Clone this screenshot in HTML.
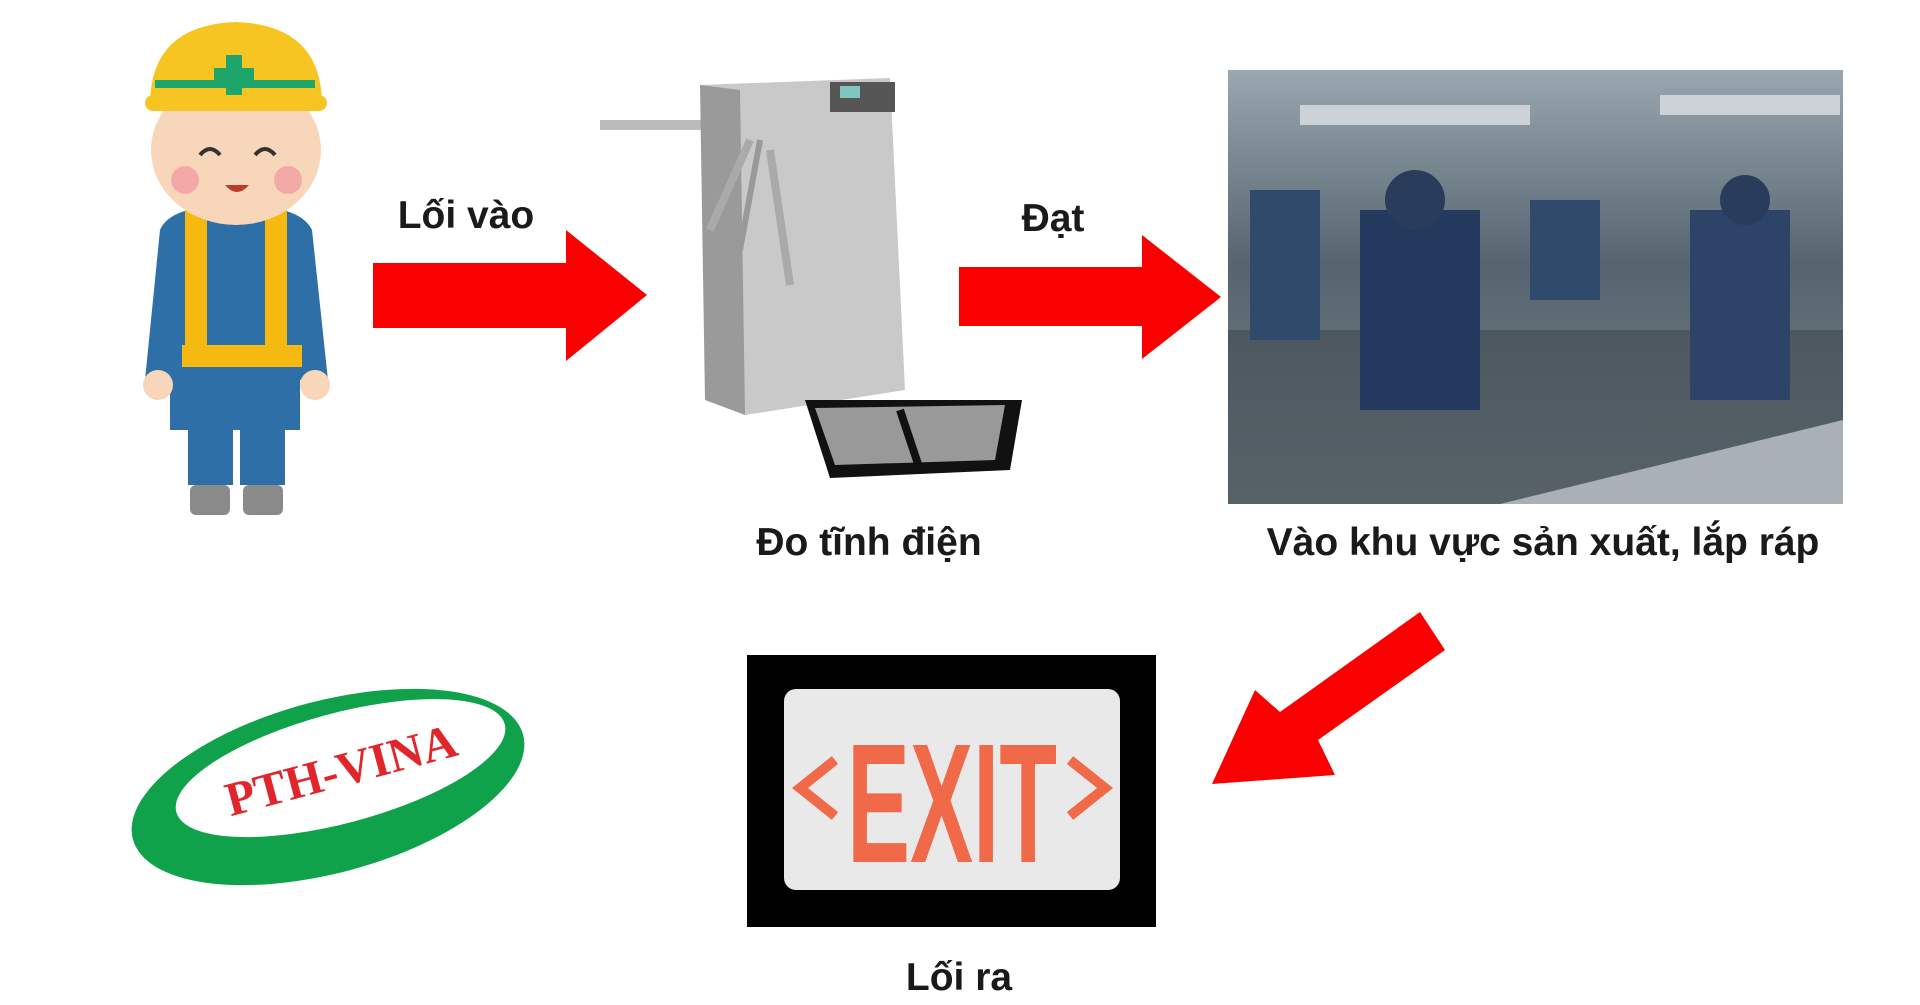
<!DOCTYPE html>
<html><head><meta charset="utf-8"><style>
html,body{margin:0;padding:0;background:#fff;width:1920px;height:1005px;overflow:hidden;position:relative;font-family:"Liberation Sans",sans-serif}
.t{position:absolute;font-weight:bold;font-size:39px;color:#1a1a1a;transform:translateX(-50%);white-space:nowrap}
.abs{position:absolute}
</style></head><body>
<svg class="abs" style="left:0;top:0" width="1920" height="1005">
<g>
<rect x="188" y="415" width="45" height="70" fill="#2f6fa8"/><rect x="240" y="415" width="45" height="70" fill="#2f6fa8"/>
<rect x="190" y="485" width="40" height="30" rx="6" fill="#8a8a8a"/><rect x="243" y="485" width="40" height="30" rx="6" fill="#8a8a8a"/>
<rect x="170" y="350" width="130" height="80" fill="#2f6fa8"/>
<path d="M160 230 Q170 205 236 205 Q300 205 312 230 L328 380 L300 380 L300 360 L170 360 L170 380 L145 380 Z" fill="#2f6fa8"/>
<rect x="185" y="208" width="22" height="150" fill="#f6b90f"/><rect x="265" y="208" width="22" height="150" fill="#f6b90f"/>
<rect x="182" y="345" width="120" height="22" fill="#f6b90f"/>
<circle cx="158" cy="385" r="15" fill="#f8d6b9"/><circle cx="315" cy="385" r="15" fill="#f8d6b9"/>
<ellipse cx="236" cy="150" rx="85" ry="75" fill="#f8d6b9"/>
<circle cx="185" cy="180" r="14" fill="#f4a9a8"/><circle cx="288" cy="180" r="14" fill="#f4a9a8"/>
<path d="M200 155 q10 -12 20 0 M255 155 q10 -12 20 0" stroke="#333" stroke-width="4" fill="none"/>
<path d="M225 185 q12 14 24 0 z" fill="#c0392b"/>
<path d="M150 105 Q150 25 236 22 Q322 25 322 105 Z" fill="#f6c522"/>
<rect x="145" y="95" width="182" height="16" rx="8" fill="#f6c522"/>
<rect x="155" y="80" width="160" height="8" fill="#1ea56b"/>
<rect x="226" y="55" width="16" height="40" fill="#1ea56b"/><rect x="214" y="68" width="40" height="14" fill="#1ea56b"/>
</g>
<polygon points="373,263 566,263 566,230 647,295 566,361 566,328 373,328" fill="#fb0000"/>
<polygon points="959,267 1142,267 1142,235 1221,297 1142,359 1142,326 959,326" fill="#fb0000"/>
<polygon points="1420,612 1445,650 1318,740 1335,775 1212,784 1255,690 1280,712" fill="#fb0000"/>
<g>
<rect x="600" y="120" width="145" height="10" fill="#bbb"/>
<polygon points="700,85 890,78 905,390 745,415" fill="#c9c9c9"/>
<polygon points="700,85 740,90 745,415 705,400" fill="#9a9a9a"/>
<rect x="830" y="82" width="65" height="30" fill="#555"/>
<rect x="840" y="86" width="20" height="12" fill="#7fc6c0"/>
<polygon points="805,400 1022,400 1010,470 830,478" fill="#111"/>
<polygon points="815,408 1005,405 995,460 835,465" fill="#999"/>
<line x1="900" y1="410" x2="920" y2="470" stroke="#111" stroke-width="8"/>
<line x1="750" y1="140" x2="710" y2="230" stroke="#aaa" stroke-width="8"/>
<line x1="770" y1="150" x2="790" y2="285" stroke="#aaa" stroke-width="8"/>
<line x1="760" y1="140" x2="740" y2="250" stroke="#999" stroke-width="6"/>
</g>
<defs><linearGradient id="fg" x1="0" y1="0" x2="0" y2="1"><stop offset="0" stop-color="#9aa7b0"/><stop offset="0.45" stop-color="#55646f"/><stop offset="1" stop-color="#7d868d"/></linearGradient></defs>
<rect x="1228" y="70" width="615" height="434" fill="url(#fg)"/>
<rect x="1228" y="330" width="615" height="174" fill="#3f4a50" opacity="0.6"/>
<rect x="1300" y="105" width="230" height="20" fill="#ccd2d6"/><rect x="1660" y="95" width="180" height="20" fill="#ccd2d6"/>
<rect x="1360" y="210" width="120" height="200" fill="#233a5e"/>
<rect x="1690" y="210" width="100" height="190" fill="#2d4468"/>
<rect x="1250" y="190" width="70" height="150" fill="#2f4a6a"/>
<rect x="1530" y="200" width="70" height="100" fill="#2f4a6a"/>
<circle cx="1415" cy="200" r="30" fill="#2a3c5c"/><circle cx="1745" cy="200" r="25" fill="#2a3c5c"/>
<polygon points="1500,504 1843,420 1843,504" fill="#aab1b6"/>
<rect x="747" y="655" width="409" height="272" fill="#000"/>
<rect x="784" y="689" width="336" height="201" rx="12" fill="#e9e9e9"/>
<text x="952" y="862" text-anchor="middle" font-family="Liberation Sans Narrow, Liberation Sans, sans-serif" font-weight="bold" font-size="170" fill="#f06a4a" textLength="210" lengthAdjust="spacingAndGlyphs">EXIT</text>
<polyline points="835,760 800,788 835,816" fill="none" stroke="#f06a4a" stroke-width="10"/>
<polyline points="1070,760 1105,788 1070,816" fill="none" stroke="#f06a4a" stroke-width="10"/>
<g transform="rotate(-15 328 787)">
<ellipse cx="328" cy="787" rx="202" ry="86" fill="#0fa24a"/>
<ellipse cx="345" cy="772" rx="170" ry="55" fill="#fff"/>
<text x="345" y="790" text-anchor="middle" font-family="Liberation Serif, serif" font-weight="bold" font-size="48" fill="#e0262a">PTH-VINA</text>
</g>
</svg>
<div class="t" style="left:466px;top:194px">Lối vào</div>
<div class="t" style="left:1053px;top:197px">Đạt</div>
<div class="t" style="left:869px;top:521px">Đo tĩnh điện</div>
<div class="t" style="left:1543px;top:521px">Vào khu vực sản xuất, lắp ráp</div>
<div class="t" style="left:959px;top:956px">Lối ra</div>
</body></html>
